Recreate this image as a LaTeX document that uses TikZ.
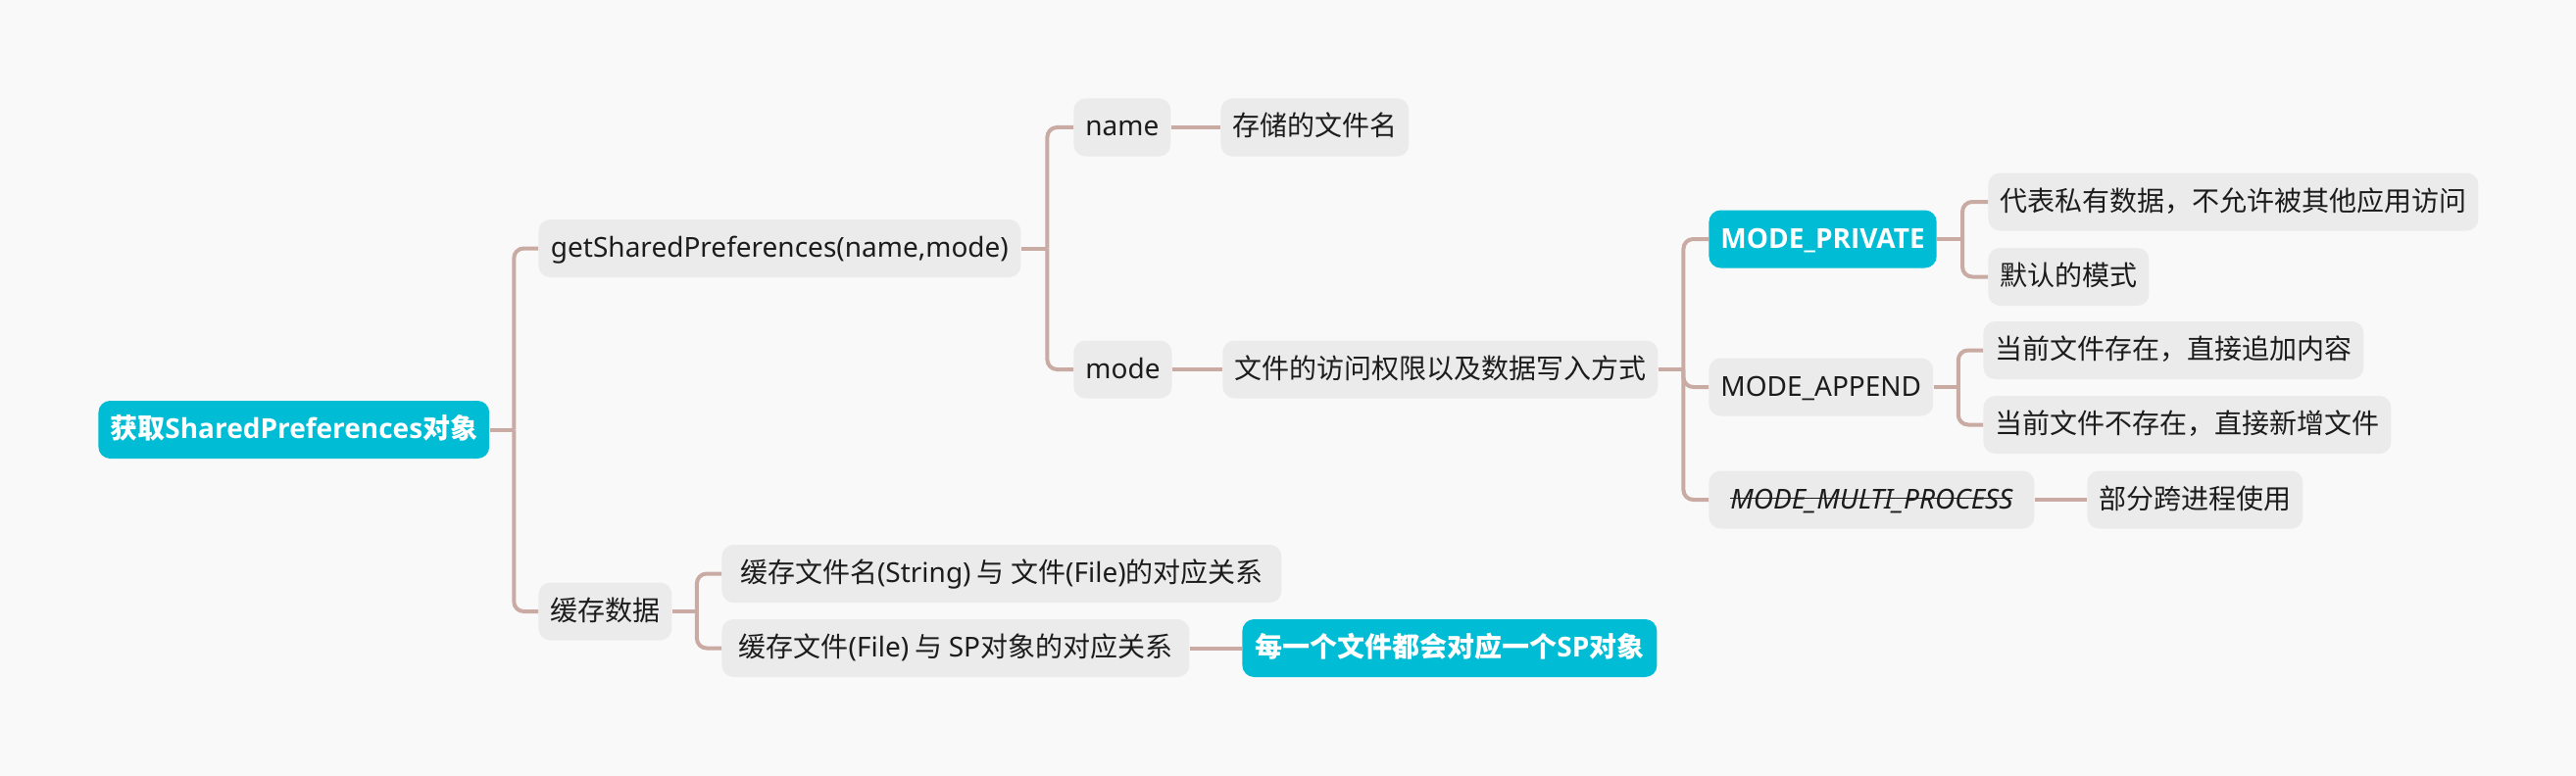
\documentclass[tikz,border=0pt]{standalone}
\usepackage{fontspec}
\usepackage{tikz}
\setmainfont{Noto Sans CJK SC}
\newfontfamily\lat{Noto Sans}
\newfontfamily\latb{Open Sans}

\definecolor{bgc}{HTML}{F9F9F9}
\definecolor{boxc}{HTML}{EBEBEB}
\definecolor{mainc}{HTML}{00BCD4}
\definecolor{linkc}{HTML}{C9ABA3}
\definecolor{ink}{HTML}{1C1C1C}

\tikzset{
  topic/.style={anchor=west, rounded corners=6pt, inner xsep=6pt, inner ysep=0pt,
    minimum height=29.5pt, text height=11.5pt, text depth=2.5pt},
  plain/.style={topic, fill=boxc, text=ink, font=\fontsize{14pt}{16pt}\selectfont},
  key/.style={topic, fill=mainc, text=white, font=\fontsize{14pt}{16pt}\selectfont\bfseries},
  link/.style={draw=linkc, line width=2pt, rounded corners=5pt},
}

% struck-out text
\newsavebox{\strikebox}
\newcommand{\strike}[1]{\sbox{\strikebox}{#1}\rlap{\usebox{\strikebox}}\rule[0.34em]{\wd\strikebox}{0.07em}}

% fork from parent to child
\newcommand{\branch}[2]{%
  \path (#1.east) -- coordinate[pos=0.5] (fork) (#2.west);
  \draw[link] (#1.east) -- (fork |- #1.east);
  \draw[link] (fork |- #1.east) |- (#2.west);
}

\begin{document}
\begin{tikzpicture}[x=0.5pt, y=-0.5pt]
\fill[bgc] (0,0) rectangle (2628,792);
\useasboundingbox (0,0) rectangle (2628,792);

% level 0 and 1
\node[key, minimum width=198pt] (root) at (100,438.5) {获取{\latb\bfseries SharedPreferences}对象};
\node[plain, minimum width=246pt] (gsp) at (549,253.5) {\lat getSharedPreferences(name,mode)};
\node[plain, minimum width=68pt] (cache) at (549,624) {缓存数据};

% parameters
\node[plain, minimum width=48.5pt] (name) at (1095,130) {\lat name};
\node[plain, minimum width=49.5pt] (mode) at (1095,377) {\lat mode};
\node[plain, minimum width=95pt] (fname) at (1245,130) {存储的文件名};
\node[plain, minimum width=221.5pt] (access) at (1247,377) {文件的访问权限以及数据写入方式};

% modes
\node[key, minimum width=116pt] (private) at (1743,244) {\latb\bfseries MODE\_PRIVATE};
\node[plain, minimum width=113pt] (append) at (1743,395) {\lat MODE\_APPEND};
\node[plain, minimum width=166pt] (multi) at (1743,510) {\lat\itshape\strike{MODE\_MULTI\_PROCESS}};
\node[plain, minimum width=249.5pt] (privA) at (2028,206) {代表私有数据，不允许被其他应用访问};
\node[plain, minimum width=81.5pt] (privB) at (2028,282.5) {默认的模式};
\node[plain, minimum width=193pt] (appA) at (2023,357.5) {当前文件存在，直接追加内容};
\node[plain, minimum width=207pt] (appB) at (2023,433.5) {当前文件不存在，直接新增文件};
\node[plain, minimum width=109pt] (partial) at (2129,510) {部分跨进程使用};

% cache
\node[plain, minimum width=285.5pt] (cacheA) at (736,585.5) {缓存文件名{\lat(String)} 与 文件{\lat(File)}的对应关系};
\node[plain, minimum width=238.5pt] (cacheB) at (736,661.5) {缓存文件{\lat(File)} 与 {\lat SP}对象的对应关系};
\node[key, minimum width=211.5pt] (sp) at (1267,661.5) {每一个文件都会对应一个{\latb\bfseries SP}对象};

% connectors
\foreach \p/\c in {root/gsp, root/cache, gsp/name, gsp/mode, access/private,
  access/append, access/multi, private/privA, private/privB,
  append/appA, append/appB, cache/cacheA, cache/cacheB}
  {\branch{\p}{\c}}
\draw[link] (name) -- (fname);
\draw[link] (mode) -- (access);
\draw[link] (multi) -- (partial);
\draw[link] (cacheB) -- (sp);
\end{tikzpicture}
\end{document}
